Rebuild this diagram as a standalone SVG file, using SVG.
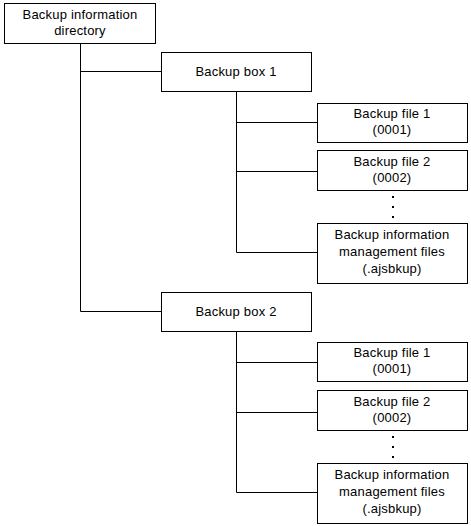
<svg xmlns="http://www.w3.org/2000/svg" width="471" height="526" viewBox="0 0 471 526">
<style>
.b{fill:#fff;stroke:#000;stroke-width:1}
.c{fill:none;stroke:#000;stroke-width:1}
text{font-family:"Liberation Sans",Arial,sans-serif;font-size:13px;fill:#000;text-anchor:middle;letter-spacing:0.2px}
</style>
<rect width="471" height="526" fill="#fff"/>
<g id="connectors">
<path class="c" d="M80.5 44V311.5H161M80.5 71.5H161"/>
<path class="c" d="M236.5 91V252.5H317M236.5 122.5H317M236.5 171.5H317"/>
<path class="c" d="M236.5 331V492.5H317M236.5 362.5H317M236.5 412.5H317"/>
<g fill="#000">
<rect x="392" y="196" width="2" height="2"/><rect x="392" y="206" width="2" height="2"/><rect x="392" y="216" width="2" height="2"/>
<rect x="392" y="436" width="2" height="2"/><rect x="392" y="446" width="2" height="2"/><rect x="392" y="456" width="2" height="2"/>
</g>
</g>
<g id="root"><rect class="b" x="4.5" y="3.5" width="151" height="40"/><text x="80" y="19">Backup information</text><text x="80" y="35">directory</text></g>
<g id="box1"><rect class="b" x="161.5" y="52.5" width="150" height="39"/><text x="236" y="76">Backup box 1</text></g>
<g id="b1f1"><rect class="b" x="317.5" y="103.5" width="150" height="39"/><text x="392" y="118">Backup file 1</text><text x="392" y="134">(0001)</text></g>
<g id="b1f2"><rect class="b" x="317.5" y="150.5" width="150" height="40"/><text x="392" y="166">Backup file 2</text><text x="392" y="182">(0002)</text></g>
<g id="b1m"><rect class="b" x="317.5" y="223.5" width="150" height="60"/><text x="392" y="239">Backup information</text><text x="392" y="256">management files</text><text x="392" y="273">(.ajsbkup)</text></g>
<g id="box2"><rect class="b" x="161.5" y="292.5" width="150" height="39"/><text x="236" y="316">Backup box 2</text></g>
<g id="b2f1"><rect class="b" x="317.5" y="342.5" width="150" height="39"/><text x="392" y="357">Backup file 1</text><text x="392" y="373">(0001)</text></g>
<g id="b2f2"><rect class="b" x="317.5" y="390.5" width="150" height="40"/><text x="392" y="406">Backup file 2</text><text x="392" y="422">(0002)</text></g>
<g id="b2m"><rect class="b" x="317.5" y="463.5" width="150" height="60"/><text x="392" y="479">Backup information</text><text x="392" y="496">management files</text><text x="392" y="513">(.ajsbkup)</text></g>
</svg>
